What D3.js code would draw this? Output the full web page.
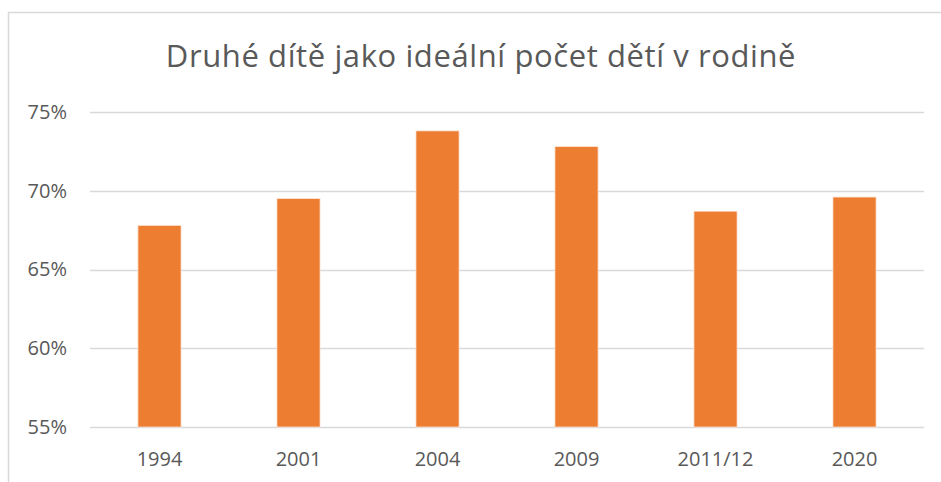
<!DOCTYPE html>
<html>
<head>
<meta charset="utf-8">
<script src="https://cdn.jsdelivr.net/npm/d3@7"></script>
<style>
  body { margin: 0; background: #fff; }
  svg { display: block; }
</style>
</head>
<body>
<script>
// data
var years = ["1994", "2001", "2004", "2009", "2011/12", "2020"];
var shares = [0.678, 0.695, 0.738, 0.728, 0.687, 0.696];
var yTicks = [0.55, 0.60, 0.65, 0.70, 0.75];
var title = "Druhé dítě jako ideální počet dětí v rodině";

var W = 941, H = 482;
var margin = {top: 112, right: 17, bottom: 55, left: 90};
var plotW = W - margin.left - margin.right;
var plotH = H - margin.top - margin.bottom;

var svg = d3.select("body").append("svg").attr("width", W).attr("height", H);

// chart frame (only top and left edges are in view)
svg.append("rect")
    .attr("x", 8.5).attr("y", 12.5)
    .attr("width", W + 20).attr("height", H + 20)
    .attr("fill", "none").attr("stroke", "#d9d9d9").attr("stroke-width", 1.5);

svg.append("text")
    .attr("x", 481).attr("y", 67)
    .attr("text-anchor", "middle")
    .attr("fill", "#595959")
    .style("font-family", "'Open Sans', sans-serif")
    .style("font-size", "31px")
    .style("letter-spacing", "0.6px")
    .text(title);

var g = svg.append("g").attr("transform", "translate(" + margin.left + "," + margin.top + ")");

var x = d3.scaleBand().domain(years).range([0, plotW]).paddingInner(0.69).paddingOuter(0.345);
var y = d3.scaleLinear().domain([0.55, 0.75]).range([plotH, 0]);

// gridlines
g.selectAll("line.grid").data(yTicks).enter().append("line")
    .attr("class", "grid")
    .attr("x1", 0).attr("x2", plotW)
    .attr("y1", function(d){ return Math.round(y(d)) + 0.5; })
    .attr("y2", function(d){ return Math.round(y(d)) + 0.5; })
    .attr("stroke", "#d9d9d9").attr("stroke-width", 1.5);

// bars
g.selectAll("rect.bar").data(shares).enter().append("rect")
    .attr("class", "bar")
    .attr("x", function(d, i){ return x(years[i]); })
    .attr("width", x.bandwidth())
    .attr("y", function(d){ return y(d); })
    .attr("height", function(d){ return plotH - y(d); })
    .attr("fill", "#ed7d31")
    .attr("stroke", "#fbe3d3").attr("stroke-width", 0.75);

// y axis labels
var yAxis = d3.axisLeft(y).tickValues(yTicks).tickSize(0).tickPadding(23)
    .tickFormat(d3.format(".0%"));
var ya = g.append("g").call(yAxis);
ya.select(".domain").remove();

// x axis labels
var xAxis = d3.axisBottom(x).tickSize(0).tickPadding(25);
var xa = g.append("g").attr("transform", "translate(0," + plotH + ")").call(xAxis);
xa.select(".domain").remove();

svg.selectAll(".tick text")
    .attr("fill", "#595959")
    .style("font-family", "'Open Sans', sans-serif")
    .style("font-size", "20px");
</script>
</body>
</html>
